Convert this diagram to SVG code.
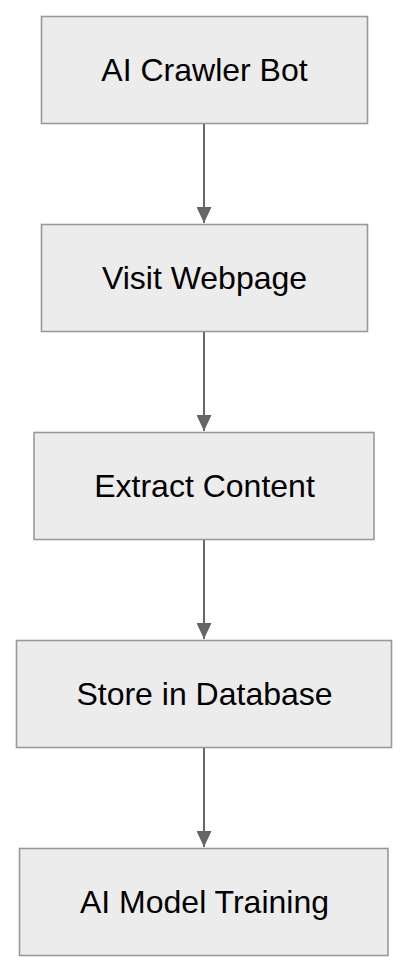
<svg xmlns="http://www.w3.org/2000/svg" width="408" height="972" viewBox="0 0 408 972">
<defs>
<style>
.node rect{fill:#ececec;stroke:#999999;stroke-width:1.6}
.node text{font-family:"Liberation Sans",Arial,sans-serif;font-size:32px;fill:#000000;text-anchor:middle}
.edge{stroke:#666666;stroke-width:2;fill:none}
</style>
<marker id="arr" viewBox="0 0 16 15" refX="16" refY="7.5" markerWidth="16" markerHeight="15" markerUnits="userSpaceOnUse" orient="auto">
<path d="M0,0 L16,7.5 L0,15 Z" fill="#666666"/>
</marker>
</defs>
<rect width="408" height="972" fill="#ffffff"/>
<g id="connectors">
<line class="edge" x1="204" y1="124" x2="204" y2="223" marker-end="url(#arr)"/>
<line class="edge" x1="204" y1="332" x2="204" y2="431" marker-end="url(#arr)"/>
<line class="edge" x1="204" y1="540" x2="204" y2="639" marker-end="url(#arr)"/>
<line class="edge" x1="204" y1="748" x2="204" y2="847" marker-end="url(#arr)"/>
</g>
<g id="node1" class="node">
<rect x="41.5" y="16.5" width="326" height="107"/>
<text x="204.5" y="80.5">AI Crawler Bot</text>
</g>
<g id="node2" class="node">
<rect x="41.5" y="224.5" width="326" height="107"/>
<text x="204.5" y="288.5">Visit Webpage</text>
</g>
<g id="node3" class="node">
<rect x="34" y="432.5" width="340" height="107"/>
<text x="204.5" y="496.5">Extract Content</text>
</g>
<g id="node4" class="node">
<rect x="16.5" y="640.5" width="375" height="107"/>
<text x="204.5" y="704.5">Store in Database</text>
</g>
<g id="node5" class="node">
<rect x="19.5" y="848.5" width="368.5" height="107"/>
<text x="204.5" y="912.5">AI Model Training</text>
</g>
</svg>
